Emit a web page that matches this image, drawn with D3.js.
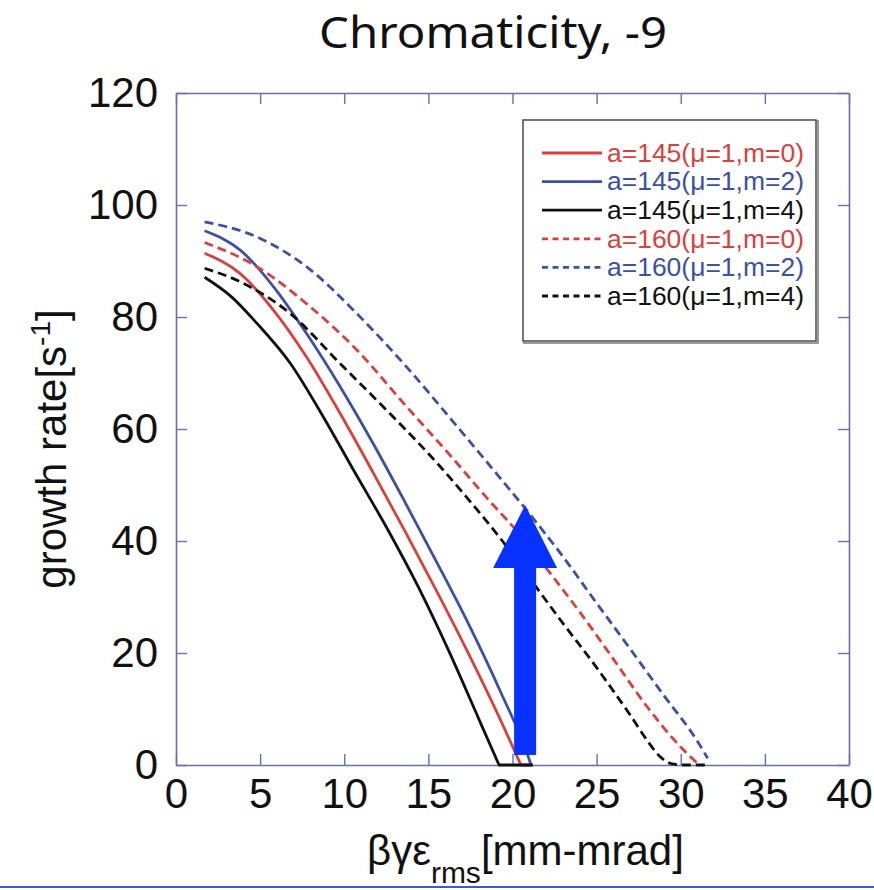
<!DOCTYPE html>
<html><head><meta charset="utf-8">
<script src="https://cdn.jsdelivr.net/npm/d3@7"></script>
<style>
html,body{margin:0;padding:0;background:#fff;}
svg{display:block;}
</style></head>
<body>
<svg id="chart" width="874" height="890"></svg>
<script>
// ---- data ----
const xTicks = [0,5,10,15,20,25,30,35,40];
const yTicks = [0,20,40,60,80,100,120];

const a145m0_x = [1.7, 3.8, 5.8, 7.75, 9.75, 11.7, 13.6, 15.5, 17.4, 19.2, 20.5, 21.2];
const a145m0_y = [91.4, 87.8, 81.2, 72.9, 62.8, 52.3, 41.8, 31.0, 19.8, 8.6, 0, 0];

const a145m2_x = [1.7, 3.8, 5.8, 7.75, 9.75, 11.7, 13.6, 15.5, 17.4, 19.3, 20.9, 21.1];
const a145m2_y = [95.4, 92.0, 85.4, 77.1, 67.6, 57.5, 47.0, 36.2, 25.1, 13.0, 1.8, 0];

const a145m4_x = [1.7, 3.3, 4.8, 6.8, 8.75, 10.6, 12.5, 14.4, 16.3, 18.0, 19.2, 21.2];
const a145m4_y = [87.1, 83.6, 78.9, 71.7, 62.2, 52.4, 42.5, 31.8, 19.8, 8.2, 0, 0];

const a160m0_x = [1.7, 4.8, 7.75, 10.75, 13.7, 16.5, 18.5, 20.25, 22.2, 24.0, 26.0, 28.0, 30.0, 31.1];
const a160m0_y = [93.3, 89.0, 82.4, 74.1, 64.0, 54.6, 47.6, 41.8, 34.4, 27.3, 18.9, 10.4, 3.2, 0];

const a160m2_x = [1.7, 4.8, 7.75, 10.75, 13.7, 16.5, 18.7, 21.0, 23.0, 25.0, 27.0, 29.0, 31.0, 31.6];
const a160m2_y = [97.0, 94.3, 89.0, 80.6, 71.1, 61.2, 53.3, 44.9, 37.2, 28.9, 20.7, 12.4, 4.2, 1.2];

const a160m4_x = [1.7, 3.8, 6.8, 9.75, 12.7, 15.7, 17.5, 19.4, 21.4, 23.0, 25.0, 26.0, 27.0, 28.0, 28.7, 29.5, 30.2, 31.5];
const a160m4_y = [88.7, 86.3, 80.6, 71.7, 62.8, 53.3, 47.0, 40.0, 31.8, 25.3, 17.4, 13.2, 8.9, 4.4, 1.7, 0.2, 0, 0];

const seriesNames = ["a=145(\u03bc=1,m=0)","a=145(\u03bc=1,m=2)","a=145(\u03bc=1,m=4)",
                     "a=160(\u03bc=1,m=0)","a=160(\u03bc=1,m=2)","a=160(\u03bc=1,m=4)"];

// arrow annotation (data units)
const arrowX = 20.75, arrowFrom = 1.8, arrowTo = 46.4, arrowHeadBase = 35.2;

// ---- styles ----
const RED = "#d8413d", BLUE = "#3d51a3", BLACK = "#111111";
const AXIS = "#6670ad";
const series = [
  {name: seriesNames[0], xs: a145m0_x, ys: a145m0_y, color: RED,   dash: null},
  {name: seriesNames[1], xs: a145m2_x, ys: a145m2_y, color: BLUE,  dash: null},
  {name: seriesNames[2], xs: a145m4_x, ys: a145m4_y, color: BLACK, dash: null},
  {name: seriesNames[3], xs: a160m0_x, ys: a160m0_y, color: RED,   dash: "9,5"},
  {name: seriesNames[4], xs: a160m2_x, ys: a160m2_y, color: BLUE,  dash: "9,5"},
  {name: seriesNames[5], xs: a160m4_x, ys: a160m4_y, color: BLACK, dash: "9,5"}
];

const svg = d3.select("#chart");
const L = 176, R = 849, T = 93, B = 765;
const x = d3.scaleLinear().domain([0,40]).range([L,R]);
const y = d3.scaleLinear().domain([0,120]).range([B,T]);

const tickFont = "'Liberation Sans', Arial, sans-serif";

// title
svg.append("text")
  .attr("x", 493).attr("y", 48)
  .attr("text-anchor","middle")
  .attr("font-family","'Noto Sans', sans-serif")
  .attr("font-size", 44)
  .attr("textLength", 348).attr("lengthAdjust","spacingAndGlyphs")
  .attr("fill","#111")
  .text("Chromaticity, -9");

// axes
function styleAxis(g){
  g.selectAll(".domain").attr("stroke", AXIS).attr("stroke-width", 1.6);
  g.selectAll(".tick line").attr("stroke", AXIS).attr("stroke-width", 1.4);
  g.selectAll(".tick text").attr("fill","#111").attr("font-family", tickFont).attr("font-size", 42);
}
svg.append("g").attr("transform",`translate(0,${B})`)
  .call(d3.axisBottom(x).tickValues(xTicks).tickSizeInner(-11).tickSizeOuter(0).tickPadding(13).tickFormat(d3.format("d")))
  .call(styleAxis);
svg.append("g").attr("transform",`translate(0,${T})`)
  .call(d3.axisTop(x).tickValues(xTicks).tickSizeInner(-11).tickSizeOuter(0).tickFormat(""))
  .call(styleAxis);
svg.append("g").attr("transform",`translate(${L},0)`)
  .call(d3.axisLeft(y).tickValues(yTicks).tickSizeInner(-11).tickSizeOuter(0).tickPadding(18).tickFormat(d3.format("d")))
  .call(styleAxis);
svg.append("g").attr("transform",`translate(${R},0)`)
  .call(d3.axisRight(y).tickValues(yTicks).tickSizeInner(-11).tickSizeOuter(0).tickFormat(""))
  .call(styleAxis);

// lines: smooth descent, then a straight flat run along zero (sharp corner)
const smooth = d3.line().curve(d3.curveMonotoneX).x(d => x(d[0])).y(d => y(d[1]));
const straight = d3.line().x(d => x(d[0])).y(d => y(d[1]));
series.forEach(s => {
  const pts = s.xs.map((v,i) => [v, s.ys[i]]);
  let k = pts.findIndex(p => p[1] === 0);
  let d;
  if (k >= 0 && k < pts.length - 1) {
    d = smooth(pts.slice(0, k + 1)) + straight(pts.slice(k)).replace(/^M/, "L");
  } else {
    d = smooth(pts);
  }
  svg.append("path")
    .attr("d", d)
    .attr("fill","none")
    .attr("stroke", s.color)
    .attr("stroke-width", 2.8)
    .attr("stroke-dasharray", s.dash)
    .attr("stroke-linejoin","round");
});

// legend
const lg = svg.append("g");
lg.append("rect").attr("x",524).attr("y",121).attr("width",294).attr("height",222)
  .attr("fill","none").attr("stroke","#999").attr("stroke-width",2);
lg.append("rect").attr("x",523).attr("y",120).attr("width",293).attr("height",221)
  .attr("fill","#fff").attr("stroke","#555").attr("stroke-width",1.6);
series.forEach((s,i) => {
  const cy = 153 + i*28.6;
  lg.append("line").attr("x1",542).attr("x2",602).attr("y1",cy).attr("y2",cy)
    .attr("stroke", s.color).attr("stroke-width",2.8).attr("stroke-dasharray", s.dash ? "6,4.5" : null);
  lg.append("text").attr("x",607).attr("y",cy).attr("dy","0.35em")
    .attr("font-family", tickFont).attr("font-size",25)
    .attr("textLength",197).attr("lengthAdjust","spacingAndGlyphs")
    .attr("fill", s.color).text(s.name);
});

// axis labels
const yl = svg.append("text")
  .attr("transform","translate(66,449) rotate(-90)")
  .attr("text-anchor","middle")
  .attr("font-family", tickFont).attr("font-size", 42).attr("fill","#111");
yl.append("tspan").text("growth rate[s");
yl.append("tspan").attr("font-size",28).attr("dy",-16).text("-1");
yl.append("tspan").attr("dy",16).text("]");

const xl = svg.append("text")
  .attr("x", 367).attr("y", 865)
  .attr("font-family", tickFont).attr("font-size", 42).attr("fill","#111");
xl.append("tspan").text("\u03b2\u03b3\u03b5");
xl.append("tspan").attr("font-size",30).attr("dy",18).text("rms");
xl.append("tspan").attr("dy",-18).text("[mm-mrad]");

// arrow
const ax = x(arrowX), shaftW = 22, headW = 64;
svg.append("rect")
  .attr("x", ax - shaftW/2).attr("y", y(arrowHeadBase) - 1)
  .attr("width", shaftW).attr("height", y(arrowFrom) - y(arrowHeadBase) + 1)
  .attr("fill","#0631ff");
svg.append("path")
  .attr("d", `M${ax - headW/2},${y(arrowHeadBase)} L${ax},${y(arrowTo)} L${ax + headW/2},${y(arrowHeadBase)} Z`)
  .attr("fill","#0631ff");

// bottom rule line
svg.append("line").attr("x1",0).attr("x2",874).attr("y1",887).attr("y2",887)
  .attr("stroke","#3a5ad8").attr("stroke-width",2);
</script>
</body></html>
